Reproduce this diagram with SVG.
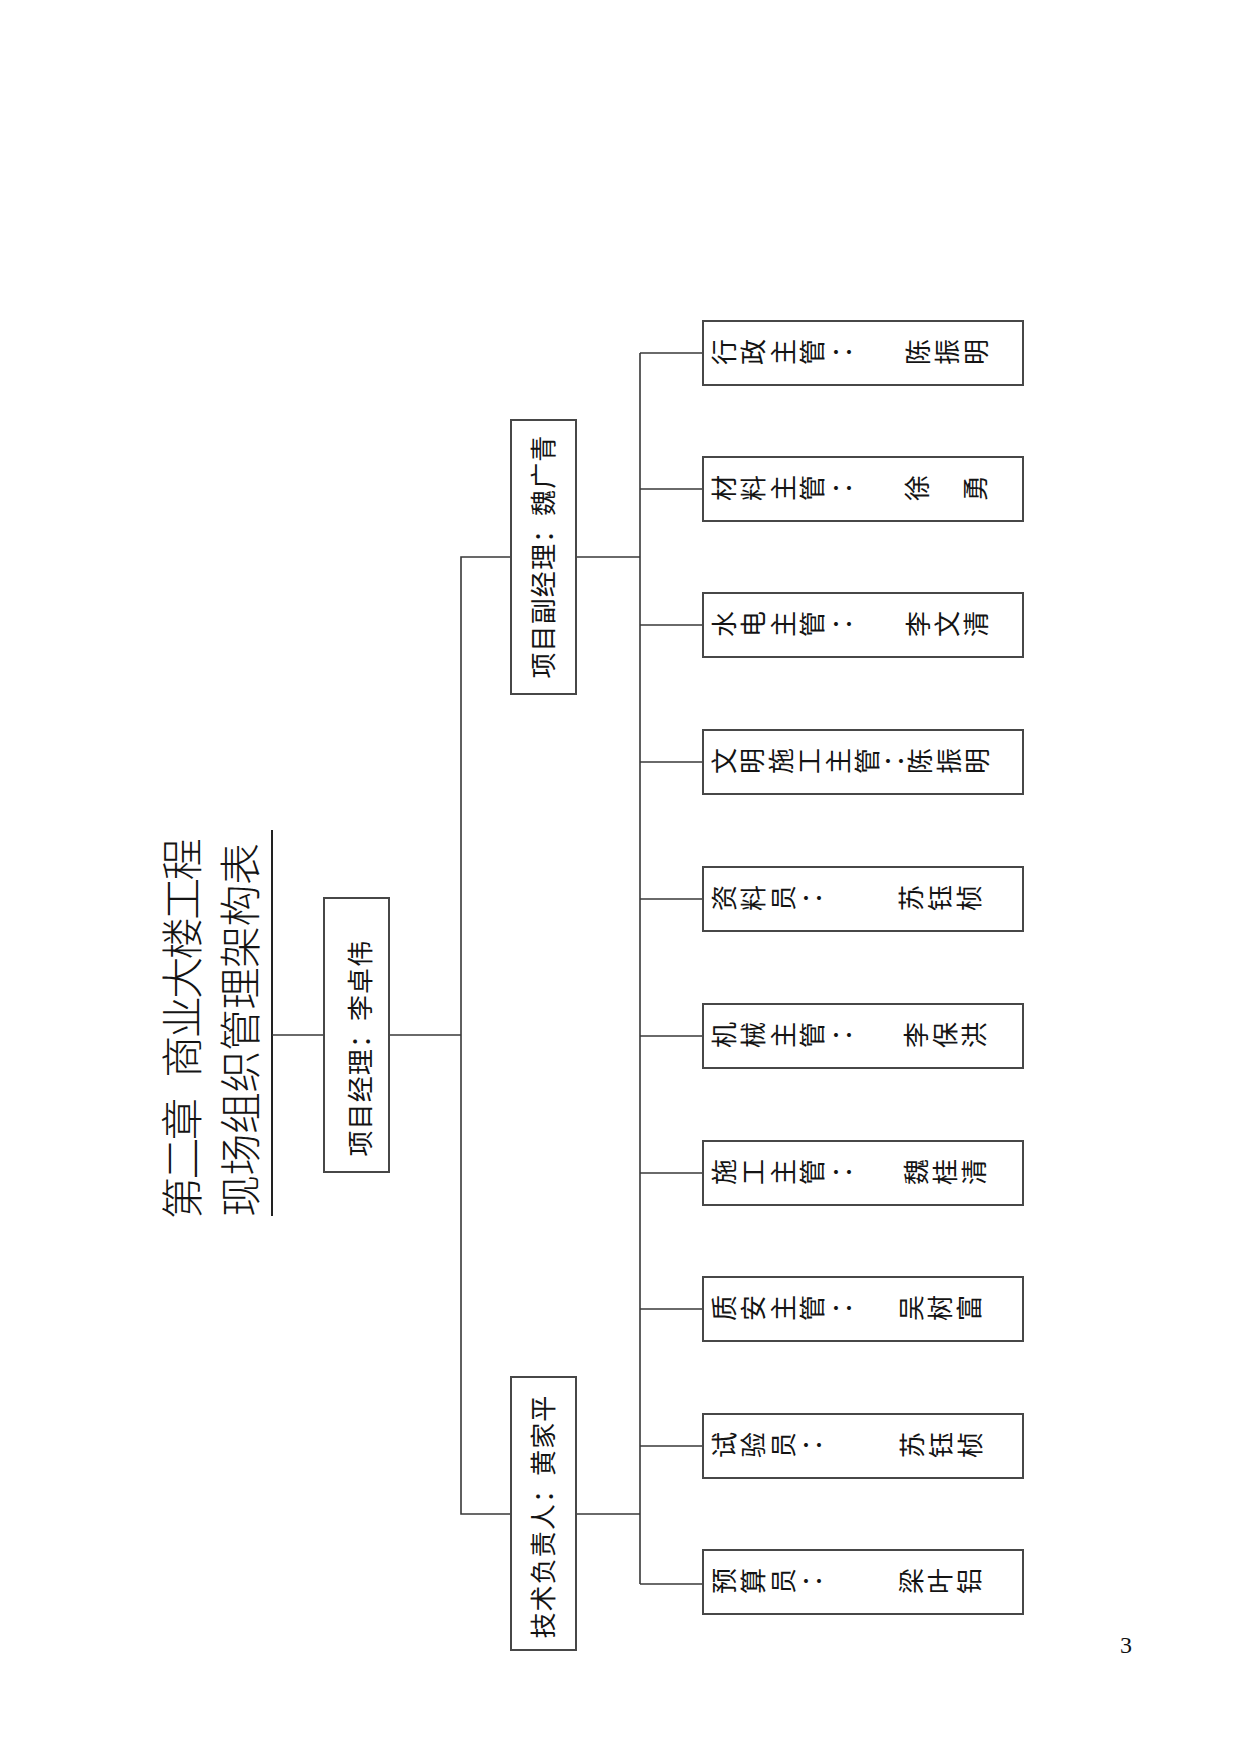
<svg xmlns="http://www.w3.org/2000/svg" width="1241" height="1754" viewBox="0 0 1241 1754">
<style>
.bg{fill:#ffffff}
.box{fill:#ffffff;stroke:#474747;stroke-width:2}
.ln{fill:none;stroke:#383838;stroke-width:1.6}
.ul{fill:none;stroke:#222222;stroke-width:2}
.t{font-family:"Noto Sans CJK SC","Noto Sans CJK TC",sans-serif;fill:#141414}
.title{font-size:42px;font-weight:300}
.lb{font-size:26px;letter-spacing:1.1px}
.r{font-size:26px}
.c{font-family:"Noto Sans CJK TC","Noto Sans CJK SC",sans-serif}
.pg{font-family:"Liberation Serif",serif;font-size:24px;fill:#111}
</style>
<rect class="bg" x="0" y="0" width="1241" height="1754"/>

<g id="title">
<text class="t title" transform="translate(197.5,1219) rotate(-90)" letter-spacing="-2.5">第二章 <tspan dx="16">商业大楼工程</tspan></text>
<text class="t title" transform="translate(255.5,1217) rotate(-90)" letter-spacing="-0.5">现场组织管理架构表</text>
<line class="ul" x1="272" y1="830" x2="272" y2="1216"/>
</g>

<g id="connectors">
<line class="ln" x1="272" y1="1035" x2="324" y2="1035"/>
<line class="ln" x1="389" y1="1035" x2="461" y2="1035"/>
<polyline class="ln" points="511,557 461,557 461,1514 511,1514"/>
<line class="ln" x1="576" y1="557" x2="640" y2="557"/>
<line class="ln" x1="576" y1="1514" x2="640" y2="1514"/>
<line class="ln" x1="640" y1="353" x2="640" y2="1584"/>
<line class="ln" x1="640" y1="353" x2="703" y2="353"/>
<line class="ln" x1="640" y1="489" x2="703" y2="489"/>
<line class="ln" x1="640" y1="625" x2="703" y2="625"/>
<line class="ln" x1="640" y1="762" x2="703" y2="762"/>
<line class="ln" x1="640" y1="899" x2="703" y2="899"/>
<line class="ln" x1="640" y1="1036" x2="703" y2="1036"/>
<line class="ln" x1="640" y1="1173" x2="703" y2="1173"/>
<line class="ln" x1="640" y1="1309" x2="703" y2="1309"/>
<line class="ln" x1="640" y1="1446" x2="703" y2="1446"/>
<line class="ln" x1="640" y1="1584" x2="703" y2="1584"/>
</g>

<g id="manager">
<rect class="box" x="324" y="898" width="65" height="274"/>
<text class="t lb" transform="translate(370,1156.5) rotate(-90)">项目经理：李卓伟</text>
</g>

<g id="deputy">
<rect class="box" x="511" y="420" width="65" height="274"/>
<text class="t lb" transform="translate(552.5,678.5) rotate(-90)">项目副经理：魏广青</text>
</g>

<g id="tech">
<rect class="box" x="511" y="1377" width="65" height="273"/>
<text class="t lb" transform="translate(552.5,1638.5) rotate(-90)">技术负责人：黄家平</text>
</g>

<g id="admin">
<rect class="box" x="703" y="321" width="320" height="64"/>
<text class="t r" x="733.5 763 792.5 822" y="365" rotate="-90">行政主管<tspan class="c" x="851.5" rotate="-90">：</tspan></text>
<text class="t r" x="927.5 956.5 985.5" y="365" rotate="-90">陈振明</text>
</g>

<g id="material">
<rect class="box" x="703" y="457" width="320" height="64"/>
<text class="t r" x="733.5 763 792.5 822" y="501" rotate="-90">材料主管<tspan class="c" x="851.5" rotate="-90">：</tspan></text>
<text class="t r" x="926.5 955.5 984.5" y="501" rotate="-90">徐　勇</text>
</g>

<g id="mep">
<rect class="box" x="703" y="593" width="320" height="64"/>
<text class="t r" x="733.5 763 792.5 822" y="637" rotate="-90">水电主管<tspan class="c" x="851.5" rotate="-90">：</tspan></text>
<text class="t r" x="927.5 956.5 985.5" y="637" rotate="-90">李文清</text>
</g>

<g id="civil">
<rect class="box" x="703" y="730" width="320" height="64"/>
<text class="t r" x="733.5 762.1 790.7 819.3 847.9 876.5" y="774" rotate="-90">文明施工主管<tspan class="c" x="904" rotate="-90">：</tspan></text>
<text class="t r" x="930 958.5 987" y="774" rotate="-90">陈振明</text>
</g>

<g id="docs">
<rect class="box" x="703" y="867" width="320" height="64"/>
<text class="t r" x="733.5 763 792.5" y="911" rotate="-90">资料员<tspan class="c" x="822" rotate="-90">：</tspan></text>
<text class="t r" x="920.5 949.5 978.5" y="911" rotate="-90">苏钰桢</text>
</g>

<g id="machine">
<rect class="box" x="703" y="1004" width="320" height="64"/>
<text class="t r" x="733.5 763 792.5 822" y="1048" rotate="-90">机械主管<tspan class="c" x="851.5" rotate="-90">：</tspan></text>
<text class="t r" x="925.5 954.5 983.5" y="1048" rotate="-90">李保洪</text>
</g>

<g id="construction">
<rect class="box" x="703" y="1141" width="320" height="64"/>
<text class="t r" x="733.5 763 792.5 822" y="1185" rotate="-90">施工主管<tspan class="c" x="851.5" rotate="-90">：</tspan></text>
<text class="t r" x="925.5 954.5 983.5" y="1185" rotate="-90">魏桂清</text>
</g>

<g id="quality">
<rect class="box" x="703" y="1277" width="320" height="64"/>
<text class="t r" x="733.5 763 792.5 822" y="1321" rotate="-90">质安主管<tspan class="c" x="851.5" rotate="-90">：</tspan></text>
<text class="t r" x="920.5 949.5 978.5" y="1321" rotate="-90">吴树富</text>
</g>

<g id="tester">
<rect class="box" x="703" y="1414" width="320" height="64"/>
<text class="t r" x="733.5 763 792.5" y="1458" rotate="-90">试验员<tspan class="c" x="822" rotate="-90">：</tspan></text>
<text class="t r" x="921.5 950.5 979.5" y="1458" rotate="-90">苏钰桢</text>
</g>

<g id="budget">
<rect class="box" x="703" y="1550" width="320" height="64"/>
<text class="t r" x="733.5 763 792.5" y="1594" rotate="-90">预算员<tspan class="c" x="822" rotate="-90">：</tspan></text>
<text class="t r" x="920.5 949.5 978.5" y="1594" rotate="-90">梁叶铝</text>
</g>

<text class="pg" x="1120" y="1653">3</text>
</svg>
